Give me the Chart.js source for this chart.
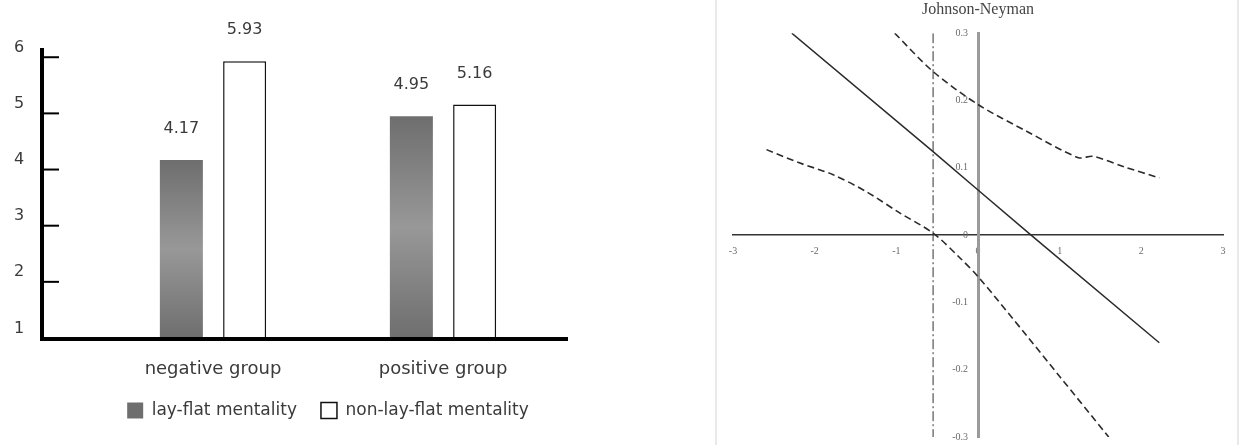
<!DOCTYPE html>
<html>
<head>
<meta charset="utf-8">
<script src="https://cdn.jsdelivr.net/npm/chart.js"></script>
<style>
body { margin: 0; background: #fff; width: 1242px; height: 445px; overflow: hidden; position: relative; }
#barChart { position: absolute; left: 0; top: 0; }
#jnBox { position: absolute; left: 715px; top: 0; width: 520px; height: 445px;
         border-left: 2px solid #e9e9e9; border-right: 2px solid #e9e9e9; }
</style>
</head>
<body>
<canvas id="barChart" width="672" height="445"></canvas>
<div id="jnBox"><canvas id="jnChart" width="520" height="445"></canvas></div>
<script>
// left panel: group means
var groups = ['negative group', 'positive group'];
var layFlat = [4.17, 4.95];
var nonLayFlat = [5.93, 5.16];
var yTickLabels = [1, 2, 3, 4, 5, 6];

// right panel: Johnson-Neyman plot
var effectX = [-2.28, -0.55, 0, 0.65, 2.22];
var effectY = [0.30, 0.124, 0.067, 0, -0.16];
var upperX = [-1.02, -0.55, 0, 0.6, 1.23, 1.41, 1.8, 2.22];
var upperY = [0.30, 0.243, 0.194, 0.154, 0.115, 0.117, 0.101, 0.085];
var lowerX = [-2.59, -2.18, -1.78, -1.36, -0.96, -0.55, -0.22, 0.01, 0.6, 1.0, 1.6];
var lowerY = [0.127, 0.107, 0.090, 0.064, 0.033, 0.003, -0.034, -0.063, -0.15, -0.21, -0.30];
var jnPoint = -0.55;
var jnYTicks = [-0.3, -0.2, -0.1, 0, 0.1, 0.2, 0.3];

var sans = '"DejaVu Sans"';

function pts(xs, ys) {
    return xs.map(function (x, i) { return { x: x, y: ys[i] }; });
}

function barGradient(context) {
    var chart = context.chart;
    if (!chart.chartArea || context.type !== 'data' || !context.parsed) return '#858585';
    var y = chart.scales.y;
    var top = y.getPixelForValue(context.parsed.y);
    var bottom = y.getPixelForValue(y.min);
    var g = chart.ctx.createLinearGradient(0, top, 0, bottom);
    g.addColorStop(0, '#6e6e6e');
    g.addColorStop(0.5, '#989898');
    g.addColorStop(1, '#6e6e6e');
    return g;
}

// thick axes, tick marks, tick labels and value labels of the bar chart
var barAxes = {
    id: 'barAxes',
    afterDatasetsDraw: function (chart) {
        var c = chart.ctx, a = chart.chartArea, y = chart.scales.y;
        var axisX = a.left - 56;
        var base = y.getPixelForValue(1) + 1;
        c.save();
        c.strokeStyle = '#000';
        c.lineWidth = 4;
        c.beginPath();
        c.moveTo(axisX, a.top + 2);
        c.lineTo(axisX, base + 2);
        c.moveTo(axisX - 2, base);
        c.lineTo(a.right + 10, base);
        c.stroke();
        c.lineWidth = 2;
        c.font = '16px ' + sans;
        c.fillStyle = '#3a3a3a';
        c.textAlign = 'center';
        c.textBaseline = 'middle';
        yTickLabels.forEach(function (v) {
            var py = y.getPixelForValue(v);
            if (v > 1) {
                c.beginPath();
                c.moveTo(axisX, py);
                c.lineTo(axisX + 17, py);
                c.stroke();
            }
            c.fillText(String(v), axisX - 23, y.getPixelForValue(v + 0.17));
        });
        chart.data.datasets.forEach(function (ds, i) {
            chart.getDatasetMeta(i).data.forEach(function (bar, j) {
                c.fillText(ds.data[j].toFixed(2), bar.x, bar.y - 31);
            });
        });
        c.restore();
    }
};

new Chart(document.getElementById('barChart'), {
    type: 'bar',
    data: {
        labels: groups,
        datasets: [{
            label: 'lay-flat mentality',
            data: layFlat,
            backgroundColor: barGradient,
            borderWidth: 0
        }, {
            label: 'non-lay-flat mentality',
            data: nonLayFlat,
            backgroundColor: '#fff',
            borderColor: '#111',
            borderWidth: 1.5
        }]
    },
    options: {
        responsive: false,
        animation: false,
        categoryPercentage: 0.55,
        barPercentage: 0.68,
        layout: { padding: { left: 98, right: 114, top: 46, bottom: 16 } },
        plugins: {
            legend: {
                position: 'bottom',
                labels: {
                    boxWidth: 16,
                    boxHeight: 16,
                    padding: 24,
                    color: '#3a3a3a',
                    font: { family: sans, size: 17 }
                }
            },
            tooltip: { enabled: false }
        },
        scales: {
            x: {
                grid: { display: false, drawTicks: true, tickLength: 22 },
                border: { display: false },
                ticks: { padding: 0, color: '#3a3a3a', font: { family: sans, size: 18, lineHeight: 1 } }
            },
            y: { display: false, min: 1, max: 6.2 }
        }
    },
    plugins: [barAxes]
});

// y tick labels sit just left of the axis drawn at x = 0
var jnLabels = {
    id: 'jnLabels',
    afterDraw: function (chart) {
        var c = chart.ctx, xs = chart.scales.x, ys = chart.scales.y;
        var x0 = xs.getPixelForValue(0);
        c.save();
        c.font = '10px "Liberation Serif"';
        c.fillStyle = '#6a6a6a';
        c.textAlign = 'right';
        c.textBaseline = 'middle';
        jnYTicks.forEach(function (v) {
            c.fillText(String(v), x0 - 10, ys.getPixelForValue(v));
        });
        c.restore();
    }
};

new Chart(document.getElementById('jnChart'), {
    type: 'line',
    data: {
        datasets: [{
            data: pts(effectX, effectY),
            borderColor: '#2b2b2b',
            borderWidth: 1.5,
            pointRadius: 0
        }, {
            data: pts(upperX, upperY),
            borderColor: '#2b2b2b',
            borderWidth: 1.6,
            borderDash: [7, 4],
            pointRadius: 0,
            tension: 0.3
        }, {
            data: pts(lowerX, lowerY),
            borderColor: '#2b2b2b',
            borderWidth: 1.6,
            borderDash: [7, 4],
            pointRadius: 0,
            tension: 0.3
        }, {
            data: [{ x: jnPoint, y: 0.3 }, { x: jnPoint, y: -0.3 }],
            borderColor: '#333',
            borderWidth: 1,
            borderDash: [10, 3, 2, 3],
            pointRadius: 0
        }]
    },
    options: {
        responsive: false,
        animation: false,
        layout: { padding: { left: 16, right: 14, top: 0, bottom: 8 } },
        plugins: {
            legend: { display: false },
            tooltip: { enabled: false },
            title: {
                display: true,
                text: 'Johnson-Neyman',
                color: '#444',
                font: { family: '"Liberation Serif"', size: 16, weight: 'normal' },
                padding: { top: 0, bottom: 14 }
            }
        },
        scales: {
            x: {
                type: 'linear',
                min: -3,
                max: 3,
                position: { y: 0 },
                grid: { display: false, drawTicks: false },
                border: { display: true, color: '#333', width: 1.5 },
                ticks: { stepSize: 1, padding: 10, color: '#6a6a6a', font: { family: '"Liberation Serif"', size: 10 } }
            },
            y: {
                type: 'linear',
                min: -0.3,
                max: 0.3,
                position: { x: 0 },
                grid: { display: false, drawTicks: false },
                border: { display: true, color: '#9a9a9a', width: 3 },
                ticks: { display: false, stepSize: 0.1 }
            }
        }
    },
    plugins: [jnLabels]
});
</script>
</body>
</html>
